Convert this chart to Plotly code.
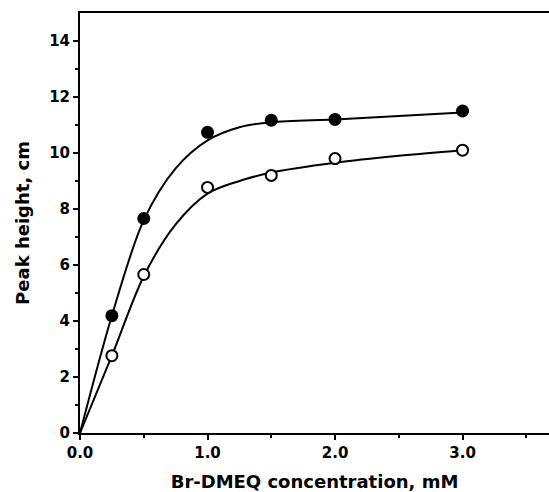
import plotly.graph_objects as go

# Data
conc = [0.25, 0.5, 1.0, 1.5, 2.0, 3.0]
filled_vals = [4.19, 7.66, 10.74, 11.17, 11.2, 11.5]
open_vals = [2.76, 5.66, 8.77, 9.2, 9.8, 10.1]

# fitted curves
curve_x = [0, 0.25, 0.5, 0.75, 1.0, 1.25, 1.5, 2.0, 2.5, 3.0]
curve_filled = [0, 4.19, 7.6, 9.45, 10.45, 10.92, 11.1, 11.2, 11.32, 11.45]
curve_open = [0, 2.76, 5.6, 7.45, 8.55, 9.0, 9.3, 9.65, 9.9, 10.1]

xticks = [0, 1, 2, 3]
xtick_labels = ["0.0", "1.0", "2.0", "3.0"]
yticks = [0, 2, 4, 6, 8, 10, 12, 14]

FAM = "DejaVu Sans, Arial, sans-serif"

fig = go.Figure()
fig.add_trace(go.Scatter(x=curve_x, y=curve_filled, mode="lines",
                         line=dict(color="black", width=2, shape="spline", smoothing=0.9),
                         showlegend=False, hoverinfo="skip"))
fig.add_trace(go.Scatter(x=curve_x, y=curve_open, mode="lines",
                         line=dict(color="black", width=2, shape="spline", smoothing=0.9),
                         showlegend=False, hoverinfo="skip"))
fig.add_trace(go.Scatter(x=conc, y=filled_vals, mode="markers",
                         marker=dict(symbol="circle", size=13, color="black"),
                         showlegend=False))
fig.add_trace(go.Scatter(x=conc, y=open_vals, mode="markers",
                         marker=dict(symbol="circle", size=11, color="white",
                                     line=dict(color="black", width=2)),
                         showlegend=False))

fig.update_layout(
    width=549, height=492,
    margin=dict(l=80, r=0, t=13, b=59),
    paper_bgcolor="white", plot_bgcolor="white",
    xaxis=dict(range=[0, 3.678], tickvals=xticks, ticktext=xtick_labels,
               automargin=False,
               ticks="outside", ticklen=5, tickwidth=2, tickcolor="black",
               showline=True, linecolor="black", linewidth=2, mirror=True,
               showgrid=False, zeroline=False,
               minor=dict(tickvals=[0.5, 1.5, 2.5, 3.5], ticks="outside", ticklen=3,
                          tickwidth=1.5, tickcolor="black"),
               tickfont=dict(family=FAM, size=15, color="black", weight="bold"),
               title=dict(text="<b>Br-DMEQ concentration, mM</b>",
                          font=dict(family=FAM, size=18, color="black"),
                          standoff=14)),
    yaxis=dict(range=[0, 15], tickvals=yticks,
               automargin=False,
               ticks="outside", ticklen=5, tickwidth=2, tickcolor="black",
               showline=True, linecolor="black", linewidth=2, mirror=False,
               showgrid=False, zeroline=False,
               minor=dict(tickvals=[1, 3, 5, 7, 9, 11, 13], ticks="outside", ticklen=3,
                          tickwidth=1.5, tickcolor="black"),
               tickfont=dict(family=FAM, size=15, color="black", weight="bold"),
               title=dict(text="<b>Peak height, cm</b>",
                          font=dict(family=FAM, size=18, color="black"),
                          standoff=15)),
)

fig.write_html("out.html",
               config={"displayModeBar": False},
               post_script="document.body.style.margin='0px';document.body.style.overflow='hidden';")
